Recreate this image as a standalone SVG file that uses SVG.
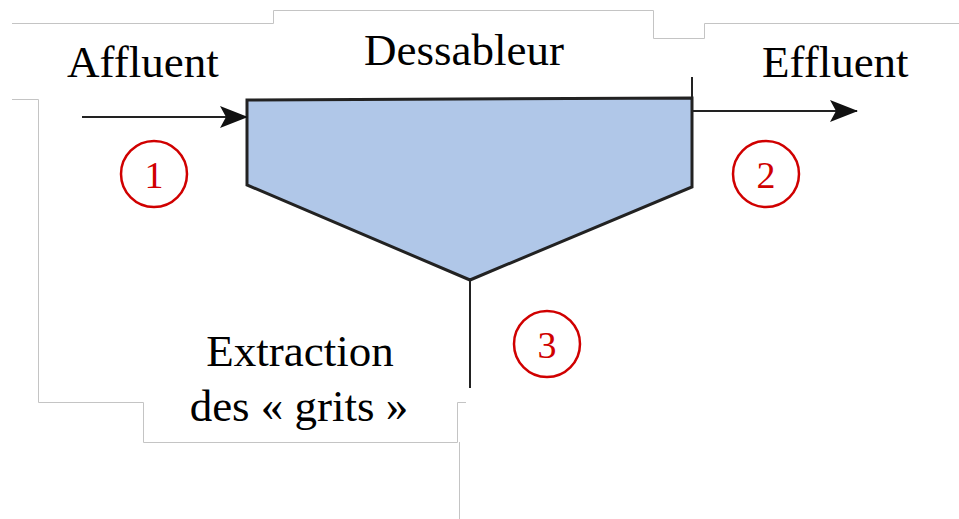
<svg xmlns="http://www.w3.org/2000/svg" width="959" height="519" viewBox="0 0 959 519">
  <style>
    .frame { fill: none; stroke: #c4c4c4; stroke-width: 1; }
    .lbl { font-family: "Liberation Serif", "Times New Roman", serif; font-size: 45px; fill: #000; }
    .num { font-family: "Liberation Serif", "Times New Roman", serif; font-size: 38px; fill: #d00000; text-anchor: middle; }
    .ring { fill: none; stroke: #d00000; stroke-width: 2.5; }
    .flow { fill: none; stroke: #222; stroke-width: 2; }
  </style>
  <defs>
    <marker id="arrow" viewBox="0 0 28 22" refX="27" refY="11" markerWidth="28" markerHeight="22" markerUnits="userSpaceOnUse" orient="auto">
      <path d="M0,0 L28,11 L0,22 L6,11 Z" fill="#111"/>
    </marker>
  </defs>

  <rect width="959" height="519" fill="#fff"/>

  <!-- light frame outline around the text areas -->
  <g id="frame">
    <polyline class="frame" points="12,23.5 273.5,23.5 273.5,10.5 653.5,10.5 653.5,38.5 704.5,38.5 704.5,23.5 959,23.5"/>
    <polyline class="frame" points="12,99.5 38.5,99.5 38.5,402.5 143.5,402.5 143.5,442.5 457.5,442.5 457.5,402.5 466,402.5"/>
    <line class="frame" x1="459.5" y1="442" x2="459.5" y2="519"/>
  </g>

  <!-- settling tank -->
  <g id="dessableur">
    <polygon points="247,100 692,98 692,187 470,280 247,185" fill="#b0c7e8" stroke="#222" stroke-width="3" stroke-linejoin="miter"/>
    <line x1="692" y1="77" x2="692" y2="98" stroke="#222" stroke-width="2"/>
    <text class="lbl" x="464" y="65" text-anchor="middle">Dessableur</text>
  </g>

  <g id="affluent">
    <text class="lbl" x="67" y="77">Affluent</text>
  </g>

  <g id="effluent">
    <text class="lbl" x="762" y="77">Effluent</text>
  </g>

  <g id="extraction">
    <text class="lbl" x="300" y="366" text-anchor="middle">Extraction</text>
    <text class="lbl" x="299" y="421" text-anchor="middle">des « grits »</text>
  </g>

  <g id="point-1">
    <circle class="ring" cx="154" cy="174" r="33"/>
    <text class="num" x="154" y="188">1</text>
  </g>
  <g id="point-2">
    <circle class="ring" cx="766" cy="174" r="33"/>
    <text class="num" x="766" y="188">2</text>
  </g>
  <g id="point-3">
    <circle class="ring" cx="547" cy="344" r="33"/>
    <text class="num" x="547" y="358">3</text>
  </g>

  <!-- flows -->
  <g id="connectors">
    <line class="flow" x1="82" y1="117" x2="247" y2="117" marker-end="url(#arrow)"/>
    <line class="flow" x1="692" y1="111" x2="857" y2="111" marker-end="url(#arrow)"/>
    <line class="flow" x1="470" y1="280" x2="470" y2="388"/>
  </g>
</svg>
